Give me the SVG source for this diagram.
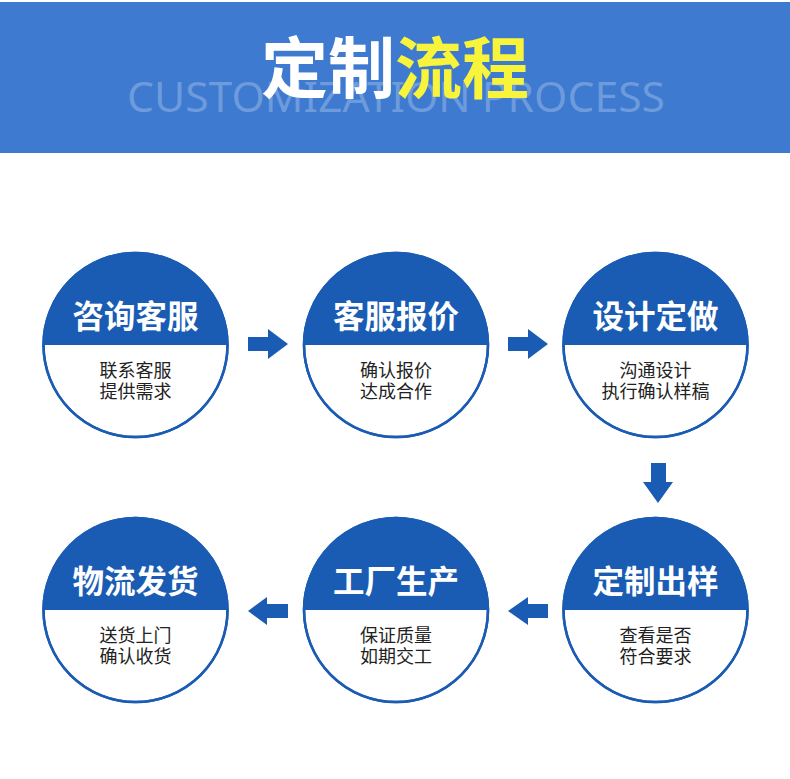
<svg xmlns="http://www.w3.org/2000/svg" width="790" height="779" viewBox="0 0 790 779">
<defs>
<style>
.cn{font-family:"Noto Sans CJK SC","Noto Sans",sans-serif;}
.ttl{font-size:31.5px;font-weight:bold;fill:#ffffff;text-anchor:middle;}
.sub{font-size:18px;fill:#222222;text-anchor:middle;}
.ring{fill:#ffffff;stroke:#1a5cb3;stroke-width:2.5;}
.cap{fill:#1a5cb3;}
.arw{fill:#1a5cb3;}
</style>
<clipPath id="c1"><circle cx="0" cy="0" r="92"/></clipPath>
</defs>
<rect width="790" height="779" fill="#ffffff"/>
<g id="header">
<rect x="0" y="2" width="790" height="151" fill="#3d7ad0"/>
<text x="396" y="112" font-family="Noto Sans, sans-serif" font-size="42" fill="#ffffff" fill-opacity="0.25" text-anchor="middle" textLength="538" lengthAdjust="spacingAndGlyphs">CUSTOMIZATION PROCESS</text>
<text x="395" y="93" class="cn" font-size="67" font-weight="bold" text-anchor="middle"><tspan fill="#ffffff">定制</tspan><tspan fill="#f8f43c">流程</tspan></text>
</g>
<g id="node1" transform="translate(135.5,345)">
<circle class="ring" r="92"/>
<path class="cap" clip-path="url(#c1)" d="M-93,-93H93V0H-93Z"/>
<circle r="92" fill="none" stroke="#1a5cb3" stroke-width="2.5"/>
<text class="cn ttl" y="-17">咨询客服</text>
<text class="cn sub" y="32">联系客服</text>
<text class="cn sub" y="53">提供需求</text>
</g>
<g id="node2" transform="translate(396,345)">
<circle class="ring" r="92"/>
<path class="cap" clip-path="url(#c1)" d="M-93,-93H93V0H-93Z"/>
<circle r="92" fill="none" stroke="#1a5cb3" stroke-width="2.5"/>
<text class="cn ttl" y="-17">客服报价</text>
<text class="cn sub" y="32">确认报价</text>
<text class="cn sub" y="53">达成合作</text>
</g>
<g id="node3" transform="translate(655.5,345)">
<circle class="ring" r="92"/>
<path class="cap" clip-path="url(#c1)" d="M-93,-93H93V0H-93Z"/>
<circle r="92" fill="none" stroke="#1a5cb3" stroke-width="2.5"/>
<text class="cn ttl" y="-17">设计定做</text>
<text class="cn sub" y="32">沟通设计</text>
<text class="cn sub" y="53">执行确认样稿</text>
</g>
<g id="node4" transform="translate(655.5,610)">
<circle class="ring" r="92"/>
<path class="cap" clip-path="url(#c1)" d="M-93,-93H93V0H-93Z"/>
<circle r="92" fill="none" stroke="#1a5cb3" stroke-width="2.5"/>
<text class="cn ttl" y="-17">定制出样</text>
<text class="cn sub" y="32">查看是否</text>
<text class="cn sub" y="53">符合要求</text>
</g>
<g id="node5" transform="translate(396,610)">
<circle class="ring" r="92"/>
<path class="cap" clip-path="url(#c1)" d="M-93,-93H93V0H-93Z"/>
<circle r="92" fill="none" stroke="#1a5cb3" stroke-width="2.5"/>
<text class="cn ttl" y="-17">工厂生产</text>
<text class="cn sub" y="32">保证质量</text>
<text class="cn sub" y="53">如期交工</text>
</g>
<g id="node6" transform="translate(135.5,610)">
<circle class="ring" r="92"/>
<path class="cap" clip-path="url(#c1)" d="M-93,-93H93V0H-93Z"/>
<circle r="92" fill="none" stroke="#1a5cb3" stroke-width="2.5"/>
<text class="cn ttl" y="-17">物流发货</text>
<text class="cn sub" y="32">送货上门</text>
<text class="cn sub" y="53">确认收货</text>
</g>
<g id="connectors">
<path class="arw" d="M248,337H268V329L288,344L268,359V351H248Z"/>
<path class="arw" d="M508,337H528V329L548,344L528,359V351H508Z"/>
<path class="arw" d="M651,463H666V482H673L658,503L643,482H651Z"/>
<path class="arw" d="M548,604H528V597L508,611L528,625V618H548Z"/>
<path class="arw" d="M288,604H267V597L248,611L267,625V618H288Z"/>
</g>
</svg>
